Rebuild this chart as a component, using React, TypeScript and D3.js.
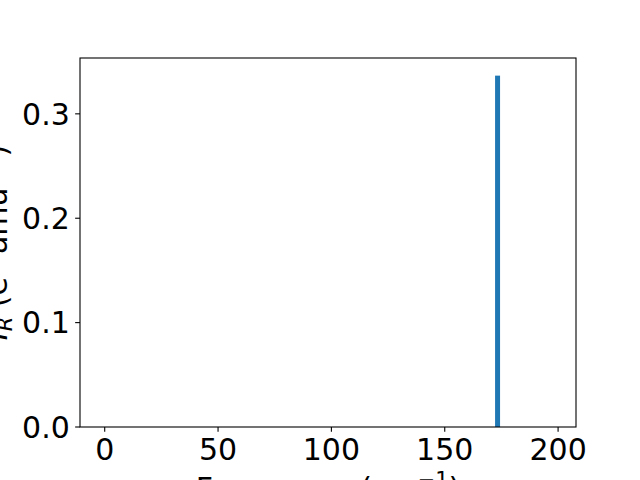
import React from "react";
import * as d3 from "d3";

const frequencies = [173.3];
const intensities = [0.3366];
const barWidthUnits = 2.2;
const xTicks = [0, 50, 100, 150, 200];
const yTicks = [0, 0.1, 0.2, 0.3];
const xDomain: [number, number] = [-10.9, 207.9];
const yDomain: [number, number] = [0, 0.3535];

const W = 640;
const H = 480;
const L = 80, R = 576, T = 58, B = 427;
const FONT = "DejaVu Sans";
const FS = 30;
const TICK = 4.86;

export default function App() {
  const x = d3.scaleLinear().domain(xDomain).range([L, R]);
  const y = d3.scaleLinear().domain(yDomain).range([B, T]);
  const cy = (T + B) / 2;
  return (
    <svg width={W} height={H} style={{ position: "absolute", left: 0, top: 0, background: "#fff" }} fontFamily={FONT}>
      <rect x={0} y={0} width={W} height={H} fill="#fff" />
      {frequencies.map((f, i) => (
        <rect key={i}
          x={x(f - barWidthUnits / 2)}
          y={y(intensities[i])}
          width={x(f + barWidthUnits / 2) - x(f - barWidthUnits / 2)}
          height={y(0) - y(intensities[i])}
          fill="#1f77b4" />
      ))}
      <rect x={L} y={T} width={R - L} height={B - T} fill="none" stroke="#000" strokeWidth={1.1} />
      {xTicks.map((t) => (
        <g key={t}>
          <line x1={x(t)} x2={x(t)} y1={B} y2={B + TICK} stroke="#000" strokeWidth={1.1} />
          <text x={x(t)} y={460.2} textAnchor="middle" fontSize={FS} fill="#000">{t}</text>
        </g>
      ))}
      {yTicks.map((t) => (
        <g key={t}>
          <line x1={L - TICK} x2={L} y1={y(t)} y2={y(t)} stroke="#000" strokeWidth={1.1} />
          <text x={L - 2 * TICK - 0.5} y={y(t) + 10.8} textAnchor="end" fontSize={FS} fill="#000">{t.toFixed(1)}</text>
        </g>
      ))}
      <text x={(L + R) / 2} y={498.5} textAnchor="middle" fontSize={FS} fill="#000">
        <tspan>Frequency (cm</tspan>
        <tspan dy={-12} fontSize={FS * 0.7}>−1</tspan>
        <tspan dy={12}>)</tspan>
      </text>
      <text transform={`translate(7,${cy}) rotate(-90)`} textAnchor="middle" fontSize={FS} fill="#000">
        <tspan fontStyle="italic">I</tspan>
        <tspan dy={5} fontSize={FS * 0.7} fontStyle="italic">R</tspan>
        <tspan dy={-5}> (e</tspan>
        <tspan dy={-12} fontSize={FS * 0.7}>2</tspan>
        <tspan dy={12}> amu</tspan>
        <tspan dy={-12} fontSize={FS * 0.7}>−1</tspan>
        <tspan dy={12}>)</tspan>
      </text>
    </svg>
  );
}
